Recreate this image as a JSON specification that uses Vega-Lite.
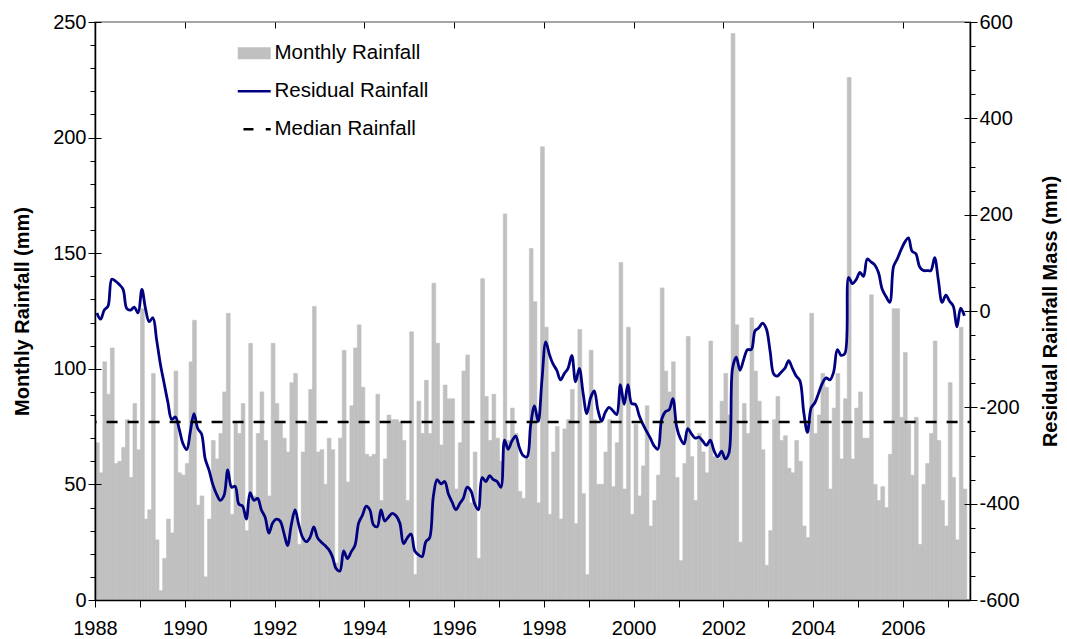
{
  "$schema": "https://vega.github.io/schema/vega-lite/v6.json",
  "width": 875,
  "height": 578,
  "autosize": "none",
  "padding": {"left": 95, "top": 22, "right": 97, "bottom": 39},
  "background": "white",
  "config": {
    "font": "Liberation Sans",
    "view": {"stroke": "#a6a6a6", "strokeWidth": 2},
    "axis": {"domainColor": "black", "tickColor": "black", "labelColor": "black", "titleColor": "black", "labelFont": "Liberation Sans", "titleFont": "Liberation Sans"}
  },
  "data": {"values": [
    {"d":"1988-01","r":68,"m":-4},{"d":"1988-02","r":55,"m":-17},{"d":"1988-03","r":103,"m":2},{"d":"1988-04","r":89,"m":10},{"d":"1988-05","r":109,"m":66},{"d":"1988-06","r":59,"m":62},{"d":"1988-07","r":60,"m":55},{"d":"1988-08","r":66,"m":45},{"d":"1988-09","r":78,"m":5},{"d":"1988-10","r":53,"m":2},{"d":"1988-11","r":85,"m":8},{"d":"1988-12","r":65,"m":-4},
    {"d":"1989-01","r":126,"m":45},{"d":"1989-02","r":35,"m":5},{"d":"1989-03","r":39,"m":-22},{"d":"1989-04","r":98,"m":-14},{"d":"1989-05","r":26,"m":-60},{"d":"1989-06","r":4,"m":-110},{"d":"1989-07","r":18,"m":-150},{"d":"1989-08","r":35,"m":-190},{"d":"1989-09","r":29,"m":-225},{"d":"1989-10","r":99,"m":-220},{"d":"1989-11","r":55,"m":-245},{"d":"1989-12","r":54,"m":-275},
    {"d":"1990-01","r":59,"m":-288},{"d":"1990-02","r":103,"m":-250},{"d":"1990-03","r":121,"m":-213},{"d":"1990-04","r":41,"m":-244},{"d":"1990-05","r":45,"m":-255},{"d":"1990-06","r":10,"m":-307},{"d":"1990-07","r":35,"m":-330},{"d":"1990-08","r":69,"m":-360},{"d":"1990-09","r":61,"m":-380},{"d":"1990-10","r":72,"m":-393},{"d":"1990-11","r":90,"m":-383},{"d":"1990-12","r":124,"m":-330},
    {"d":"1991-01","r":37,"m":-366},{"d":"1991-02","r":77,"m":-364},{"d":"1991-03","r":72,"m":-401},{"d":"1991-04","r":85,"m":-405},{"d":"1991-05","r":30,"m":-432},{"d":"1991-06","r":111,"m":-377},{"d":"1991-07","r":45,"m":-393},{"d":"1991-08","r":72,"m":-389},{"d":"1991-09","r":90,"m":-413},{"d":"1991-10","r":69,"m":-428},{"d":"1991-11","r":45,"m":-461},{"d":"1991-12","r":111,"m":-440},
    {"d":"1992-01","r":85,"m":-432},{"d":"1992-02","r":77,"m":-436},{"d":"1992-03","r":70,"m":-460},{"d":"1992-04","r":64,"m":-487},{"d":"1992-05","r":94,"m":-444},{"d":"1992-06","r":98,"m":-413},{"d":"1992-07","r":24,"m":-444},{"d":"1992-08","r":64,"m":-470},{"d":"1992-09","r":77,"m":-479},{"d":"1992-10","r":91,"m":-470},{"d":"1992-11","r":127,"m":-448},{"d":"1992-12","r":64,"m":-471},
    {"d":"1993-01","r":65,"m":-480},{"d":"1993-02","r":50,"m":-487},{"d":"1993-03","r":70,"m":-495},{"d":"1993-04","r":65,"m":-510},{"d":"1993-05","r":16,"m":-535},{"d":"1993-06","r":70,"m":-540},{"d":"1993-07","r":108,"m":-498},{"d":"1993-08","r":51,"m":-514},{"d":"1993-09","r":84,"m":-500},{"d":"1993-10","r":109,"m":-487},{"d":"1993-11","r":119,"m":-440},{"d":"1993-12","r":92,"m":-424},
    {"d":"1994-01","r":63,"m":-405},{"d":"1994-02","r":62,"m":-413},{"d":"1994-03","r":63,"m":-444},{"d":"1994-04","r":89,"m":-448},{"d":"1994-05","r":43,"m":-413},{"d":"1994-06","r":61,"m":-436},{"d":"1994-07","r":80,"m":-428},{"d":"1994-08","r":78,"m":-420},{"d":"1994-09","r":78,"m":-425},{"d":"1994-10","r":77,"m":-440},{"d":"1994-11","r":69,"m":-483},{"d":"1994-12","r":43,"m":-471},
    {"d":"1995-01","r":116,"m":-463},{"d":"1995-02","r":11,"m":-498},{"d":"1995-03","r":86,"m":-506},{"d":"1995-04","r":72,"m":-510},{"d":"1995-05","r":95,"m":-479},{"d":"1995-06","r":72,"m":-471},{"d":"1995-07","r":137,"m":-385},{"d":"1995-08","r":111,"m":-350},{"d":"1995-09","r":67,"m":-359},{"d":"1995-10","r":93,"m":-354},{"d":"1995-11","r":87,"m":-380},{"d":"1995-12","r":87,"m":-397},
    {"d":"1996-01","r":48,"m":-413},{"d":"1996-02","r":68,"m":-400},{"d":"1996-03","r":99,"m":-389},{"d":"1996-04","r":106,"m":-366},{"d":"1996-05","r":42,"m":-373},{"d":"1996-06","r":64,"m":-400},{"d":"1996-07","r":18,"m":-413},{"d":"1996-08","r":139,"m":-346},{"d":"1996-09","r":88,"m":-354},{"d":"1996-10","r":69,"m":-342},{"d":"1996-11","r":89,"m":-350},{"d":"1996-12","r":70,"m":-354},
    {"d":"1997-01","r":60,"m":-366},{"d":"1997-02","r":167,"m":-268},{"d":"1997-03","r":69,"m":-287},{"d":"1997-04","r":83,"m":-270},{"d":"1997-05","r":72,"m":-260},{"d":"1997-06","r":47,"m":-284},{"d":"1997-07","r":44,"m":-300},{"d":"1997-08","r":61,"m":-303},{"d":"1997-09","r":152,"m":-236},{"d":"1997-10","r":129,"m":-197},{"d":"1997-11","r":42,"m":-229},{"d":"1997-12","r":196,"m":-143},
    {"d":"1998-01","r":118,"m":-64},{"d":"1998-02","r":37,"m":-90},{"d":"1998-03","r":64,"m":-110},{"d":"1998-04","r":75,"m":-123},{"d":"1998-05","r":35,"m":-143},{"d":"1998-06","r":74,"m":-130},{"d":"1998-07","r":78,"m":-119},{"d":"1998-08","r":91,"m":-92},{"d":"1998-09","r":33,"m":-147},{"d":"1998-10","r":117,"m":-119},{"d":"1998-11","r":46,"m":-170},{"d":"1998-12","r":11,"m":-213},
    {"d":"1999-01","r":108,"m":-180},{"d":"1999-02","r":78,"m":-166},{"d":"1999-03","r":50,"m":-205},{"d":"1999-04","r":50,"m":-229},{"d":"1999-05","r":64,"m":-210},{"d":"1999-06","r":78,"m":-200},{"d":"1999-07","r":49,"m":-207},{"d":"1999-08","r":68,"m":-215},{"d":"1999-09","r":146,"m":-153},{"d":"1999-10","r":48,"m":-194},{"d":"1999-11","r":118,"m":-153},{"d":"1999-12","r":37,"m":-192},
    {"d":"2000-01","r":76,"m":-194},{"d":"2000-02","r":45,"m":-217},{"d":"2000-03","r":58,"m":-235},{"d":"2000-04","r":84,"m":-250},{"d":"2000-05","r":32,"m":-264},{"d":"2000-06","r":43,"m":-280},{"d":"2000-07","r":54,"m":-287},{"d":"2000-08","r":135,"m":-225},{"d":"2000-09","r":99,"m":-209},{"d":"2000-10","r":90,"m":-205},{"d":"2000-11","r":103,"m":-182},{"d":"2000-12","r":53,"m":-240},
    {"d":"2001-01","r":17,"m":-265},{"d":"2001-02","r":59,"m":-276},{"d":"2001-03","r":114,"m":-244},{"d":"2001-04","r":62,"m":-255},{"d":"2001-05","r":43,"m":-264},{"d":"2001-06","r":72,"m":-262},{"d":"2001-07","r":64,"m":-270},{"d":"2001-08","r":55,"m":-279},{"d":"2001-09","r":112,"m":-268},{"d":"2001-10","r":62,"m":-290},{"d":"2001-11","r":61,"m":-303},{"d":"2001-12","r":86,"m":-291},
    {"d":"2002-01","r":98,"m":-307},{"d":"2002-02","r":80,"m":-295},{"d":"2002-03","r":245,"m":-119},{"d":"2002-04","r":119,"m":-96},{"d":"2002-05","r":25,"m":-123},{"d":"2002-06","r":85,"m":-100},{"d":"2002-07","r":72,"m":-80},{"d":"2002-08","r":122,"m":-80},{"d":"2002-09","r":99,"m":-41},{"d":"2002-10","r":86,"m":-35},{"d":"2002-11","r":65,"m":-25},{"d":"2002-12","r":15,"m":-37},
    {"d":"2003-01","r":30,"m":-84},{"d":"2003-02","r":78,"m":-131},{"d":"2003-03","r":88,"m":-135},{"d":"2003-04","r":69,"m":-127},{"d":"2003-05","r":71,"m":-119},{"d":"2003-06","r":57,"m":-103},{"d":"2003-07","r":55,"m":-119},{"d":"2003-08","r":69,"m":-135},{"d":"2003-09","r":60,"m":-145},{"d":"2003-10","r":32,"m":-209},{"d":"2003-11","r":27,"m":-252},{"d":"2003-12","r":124,"m":-201},
    {"d":"2004-01","r":72,"m":-190},{"d":"2004-02","r":80,"m":-170},{"d":"2004-03","r":98,"m":-150},{"d":"2004-04","r":92,"m":-139},{"d":"2004-05","r":48,"m":-143},{"d":"2004-06","r":83,"m":-127},{"d":"2004-07","r":98,"m":-80},{"d":"2004-08","r":61,"m":-92},{"d":"2004-09","r":87,"m":-88},{"d":"2004-10","r":226,"m":70},{"d":"2004-11","r":61,"m":57},{"d":"2004-12","r":83,"m":65},
    {"d":"2005-01","r":90,"m":80},{"d":"2005-02","r":70,"m":72},{"d":"2005-03","r":70,"m":108},{"d":"2005-04","r":132,"m":102},{"d":"2005-05","r":50,"m":96},{"d":"2005-06","r":43,"m":80},{"d":"2005-07","r":49,"m":45},{"d":"2005-08","r":40,"m":30},{"d":"2005-09","r":63,"m":18},{"d":"2005-10","r":126,"m":92},{"d":"2005-11","r":126,"m":108},{"d":"2005-12","r":79,"m":127},
    {"d":"2006-01","r":107,"m":143},{"d":"2006-02","r":76,"m":152},{"d":"2006-03","r":54,"m":124},{"d":"2006-04","r":79,"m":119},{"d":"2006-05","r":24,"m":92},{"d":"2006-06","r":50,"m":84},{"d":"2006-07","r":59,"m":84},{"d":"2006-08","r":72,"m":84},{"d":"2006-09","r":112,"m":111},{"d":"2006-10","r":69,"m":64},{"d":"2006-11","r":43,"m":18},{"d":"2006-12","r":32,"m":33},
    {"d":"2007-01","r":94,"m":20},{"d":"2007-02","r":53,"m":10},{"d":"2007-03","r":26,"m":-33},{"d":"2007-04","r":118,"m":6},{"d":"2007-05","r":48,"m":-10}
  ]},
  "layer": [
    {
      "mark": {"type": "bar", "fill": "#c0c0c0", "stroke": "#c0c0c0", "strokeWidth": 0.6, "binSpacing": 0},
      "encoding": {
        "x": {
          "field": "d", "type": "temporal", "timeUnit": "utcyearmonth",
          "scale": {"domain": [{"year": 1988, "month": 1, "date": 1, "utc": true}, {"year": 2007, "month": 7, "date": 1, "utc": true}], "nice": false},
          "axis": {
            "title": null,
            "values": [
              {"year": 1988, "month": 1, "date": 1, "utc": true}, {"year": 1989, "month": 1, "date": 1, "utc": true},
              {"year": 1990, "month": 1, "date": 1, "utc": true}, {"year": 1991, "month": 1, "date": 1, "utc": true},
              {"year": 1992, "month": 1, "date": 1, "utc": true}, {"year": 1993, "month": 1, "date": 1, "utc": true},
              {"year": 1994, "month": 1, "date": 1, "utc": true}, {"year": 1995, "month": 1, "date": 1, "utc": true},
              {"year": 1996, "month": 1, "date": 1, "utc": true}, {"year": 1997, "month": 1, "date": 1, "utc": true},
              {"year": 1998, "month": 1, "date": 1, "utc": true}, {"year": 1999, "month": 1, "date": 1, "utc": true},
              {"year": 2000, "month": 1, "date": 1, "utc": true}, {"year": 2001, "month": 1, "date": 1, "utc": true},
              {"year": 2002, "month": 1, "date": 1, "utc": true}, {"year": 2003, "month": 1, "date": 1, "utc": true},
              {"year": 2004, "month": 1, "date": 1, "utc": true}, {"year": 2005, "month": 1, "date": 1, "utc": true},
              {"year": 2006, "month": 1, "date": 1, "utc": true}, {"year": 2007, "month": 1, "date": 1, "utc": true}
            ],
            "labelExpr": "utcyear(datum.value) % 2 === 0 ? utcFormat(datum.value, '%Y') : ''",
            "labelFontSize": 20,
            "labelPadding": 11,
            "labelFlush": false,
            "labelOverlap": false,
            "tickSize": 7,
            "tickWidth": 1,
            "domainWidth": 1.5,
            "grid": true,
            "gridColor": "black",
            "gridDash": [6, 2000],
            "gridWidth": 1,
            "gridOpacity": {"condition": {"test": "utcyear(datum.value) % 2 === 0", "value": 1}, "value": 0},
            "zindex": 1
          }
        },
        "y": {
          "field": "r", "type": "quantitative",
          "scale": {"domain": [0, 250], "nice": false},
          "axis": {
            "title": "Monthly Rainfall (mm)",
            "titleFontSize": 20,
            "titleFontWeight": "bold",
            "titlePadding": 20,
            "values": [0,10,20,30,40,50,60,70,80,90,100,110,120,130,140,150,160,170,180,190,200,210,220,230,240,250],
            "labelExpr": "datum.value % 50 === 0 ? '' + datum.value : ''",
            "labelFontSize": 20,
            "labelPadding": 2,
            "labelOverlap": false,
            "labelFlush": false,
            "tickSize": {"condition": {"test": "datum.value % 50 === 0", "value": 7}, "value": 5},
            "domainWidth": 1.5,
            "grid": true,
            "gridColor": "black",
            "gridDash": [6, 2000],
            "gridWidth": 1,
            "gridOpacity": {"condition": {"test": "datum.value % 50 === 0", "value": 1}, "value": 0},
            "zindex": 1
          }
        }
      }
    },
    {
      "mark": {"type": "line", "strokeWidth": 2.8, "interpolate": "catmull-rom"},
      "encoding": {
        "x": {"field": "d", "type": "temporal", "timeUnit": "utcyearmonth", "bandPosition": 0.5},
        "y": {
          "field": "m", "type": "quantitative",
          "scale": {"domain": [-600, 600], "nice": false},
          "axis": {
            "orient": "right",
            "title": "Residual Rainfall Mass (mm)",
            "titleAngle": 270,
            "titleFontSize": 20,
            "titleFontWeight": "bold",
            "titlePadding": 41,
            "values": [-600,-550,-500,-450,-400,-350,-300,-250,-200,-150,-100,-50,0,50,100,150,200,250,300,350,400,450,500,550,600],
            "labelExpr": "datum.value % 200 === 0 ? '' + datum.value : ''",
            "labelFontSize": 20,
            "labelPadding": 2,
            "labelOverlap": false,
            "labelFlush": false,
            "tickSize": {"condition": {"test": "datum.value % 200 === 0", "value": 7}, "value": 5},
            "domainWidth": 1.5,
            "grid": true,
            "gridColor": "black",
            "gridDash": [6, 2000],
            "gridWidth": 1,
            "gridOpacity": {"condition": {"test": "datum.value % 200 === 0", "value": 1}, "value": 0},
            "zindex": 1
          }
        },
        "color": {
          "datum": "Residual Rainfall", "type": "nominal",
          "scale": {"domain": ["Monthly Rainfall", "Residual Rainfall", "Median Rainfall"], "range": ["#c0c0c0", "#000080", "#000000"]},
          "legend": {
            "title": null,
            "orient": "none",
            "legendX": 149,
            "legendY": 21,
            "padding": 0,
            "symbolSize": 1089,
            "symbolStrokeWidth": 2.5,
            "labelFontSize": 20.5,
            "labelFont": "Liberation Sans",
            "labelColor": "black",
            "labelOffset": 10,
            "rowPadding": 17,
            "encode": {
              "symbols": {
                "update": {
                  "shape": {"signal": "datum.value === 'Monthly Rainfall' ? 'M-1,-0.36H1V0.36H-1Z' : 'stroke'"},
                  "fill": {"signal": "datum.value === 'Monthly Rainfall' ? '#c0c0c0' : 'transparent'"},
                  "stroke": {"signal": "datum.value === 'Monthly Rainfall' ? 'transparent' : (datum.value === 'Residual Rainfall' ? '#000080' : '#000000')"},
                  "strokeWidth": {"signal": "datum.value === 'Monthly Rainfall' ? 0 : 2.5"},
                  "strokeDash": {"signal": "datum.value === 'Median Rainfall' ? [10, 12.3] : [1, 0]"},
                  "strokeDashOffset": {"signal": "datum.value === 'Median Rainfall' ? 16.6 : 0"},
                  "opacity": {"value": 1}
                }
              }
            }
          }
        }
      }
    },
    {
      "data": {"values": [{"median": 77}]},
      "mark": {"type": "rule", "strokeWidth": 2.5, "strokeDash": [11, 10], "strokeDashOffset": 8.6},
      "encoding": {
        "y": {"field": "median", "type": "quantitative", "scale": {"domain": [0, 250], "nice": false}, "axis": null},
        "color": {"datum": "Median Rainfall", "type": "nominal"}
      }
    }
  ],
  "resolve": {"scale": {"y": "independent"}}
}
